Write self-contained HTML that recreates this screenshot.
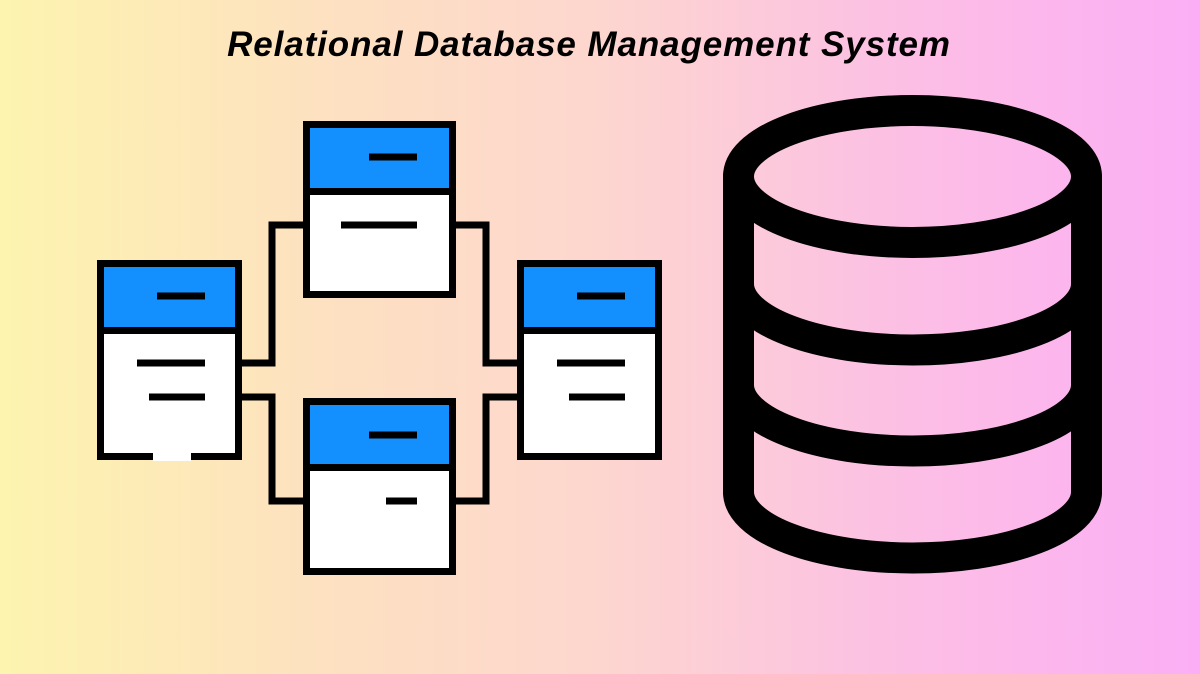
<!DOCTYPE html>
<html><head><style>
html,body{margin:0;padding:0}
body{width:1200px;height:674px;overflow:hidden;background:linear-gradient(90deg,#fdf4af 0%,#fde2bf 25%,#fdd6cf 50%,#fcbfe4 75%,#fbaef5 100%);position:relative;font-family:"Liberation Sans",sans-serif}
.t{position:absolute;left:0;width:1178px;text-align:center;top:25px;font-size:35px;letter-spacing:0.9px;font-weight:bold;font-style:italic;color:#000}
svg{position:absolute;left:0;top:0}
</style></head><body>
<div class="t">Relational Database Management System</div>
<svg width="1200" height="674" viewBox="0 0 1200 674">
<g fill="none" stroke="#000" stroke-width="7">
<polyline points="242,363 272,363 272,225 306,225"/>
<polyline points="242,397 272,397 272,501 306,501"/>
<polyline points="452,225 486,225 486,363 520,363"/>
<polyline points="452,501 486,501 486,397 520,397"/>
</g>
<g stroke="#000" stroke-width="7">
<rect x="306.5" y="124.5" width="146" height="170" fill="#fff"/>
<rect x="306.5" y="124.5" width="146" height="67" fill="#1390fd"/>
<rect x="100.5" y="263.5" width="138" height="193" fill="#fff"/>
<rect x="100.5" y="263.5" width="138" height="67" fill="#1390fd"/>
<rect x="520.5" y="263.5" width="138" height="193" fill="#fff"/>
<rect x="520.5" y="263.5" width="138" height="67" fill="#1390fd"/>
<rect x="306.5" y="401.5" width="146" height="170" fill="#fff"/>
<rect x="306.5" y="401.5" width="146" height="66" fill="#1390fd"/>
</g>
<rect x="153" y="453" width="38" height="8" fill="#fff"/>
<g stroke="#000" stroke-width="7">
<line x1="369" y1="157" x2="417" y2="157"/>
<line x1="341" y1="225" x2="417" y2="225"/>
<line x1="157" y1="296" x2="205" y2="296"/>
<line x1="137" y1="363" x2="205" y2="363"/>
<line x1="149" y1="397" x2="205" y2="397"/>
<line x1="577" y1="296" x2="625" y2="296"/>
<line x1="557" y1="363" x2="625" y2="363"/>
<line x1="569" y1="397" x2="625" y2="397"/>
<line x1="369" y1="435" x2="417" y2="435"/>
<line x1="386" y1="501" x2="417" y2="501"/>
</g>
<g fill="none" stroke="#000" stroke-width="31" stroke-linecap="round">
<ellipse cx="912.5" cy="176.5" rx="174" ry="66"/>
<line x1="738.5" y1="176" x2="738.5" y2="492"/>
<line x1="1086.5" y1="176" x2="1086.5" y2="492"/>
<path d="M738.5 284 A174 66 0 0 0 1086.5 284"/>
<path d="M738.5 385 A174 66 0 0 0 1086.5 385"/>
<path d="M738.5 492 A174 66 0 0 0 1086.5 492"/>
</g>
</svg>
</body></html>
